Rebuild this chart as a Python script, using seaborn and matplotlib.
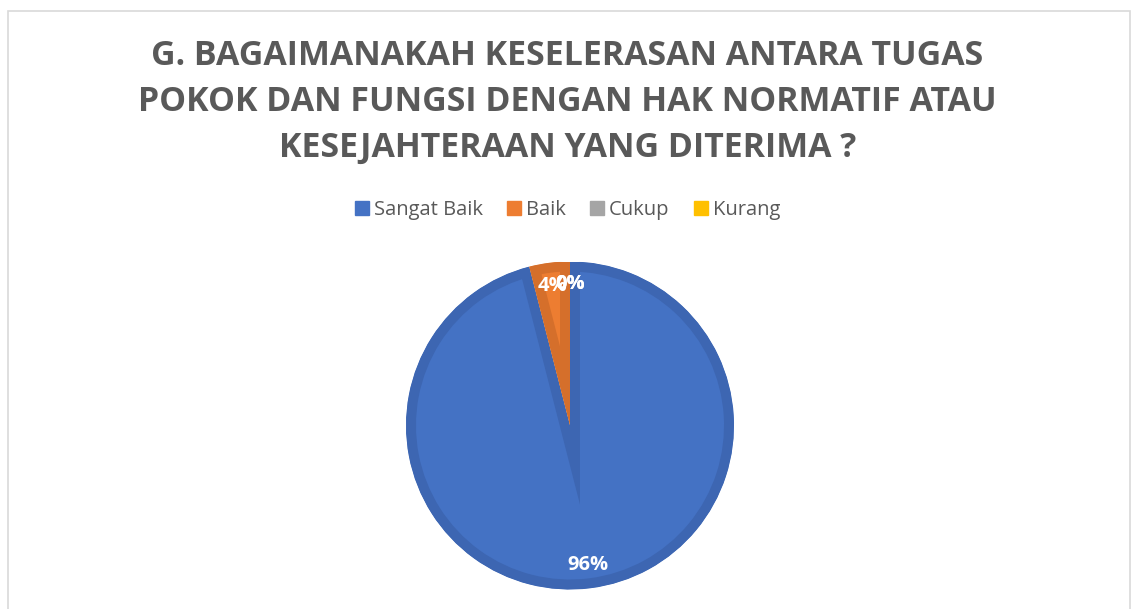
import matplotlib
matplotlib.use("Agg")
import matplotlib.pyplot as plt
import matplotlib.patches as mpatches
import seaborn as sns

# data
kategori = ["Sangat Baik", "Baik", "Cukup", "Kurang"]
persen = [96, 4, 0, 0]
warna = ["#4472C4", "#ED7D31", "#A5A5A5", "#FFC000"]
warna_tepi = ["#3D66B2", "#D56F2B", "#959595", "#E6AD00"]
judul = ("G. BAGAIMANAKAH KESELERASAN ANTARA TUGAS\n"
         "POKOK DAN FUNGSI DENGAN HAK NORMATIF ATAU\n"
         "KESEJAHTERAAN YANG DITERIMA ?")

sns.set_theme(style="white")
plt.rcParams['font.family'] = ['Open Sans', 'DejaVu Sans']

W, H = 1135, 609
fig = plt.figure(figsize=(W / 100, H / 100), dpi=100)
fig.patch.set_facecolor("white")

# chart border
fig.patches.append(mpatches.Rectangle((8 / W, -0.1), (1130 - 8) / W, 1.1 - 11 / H,
                                      transform=fig.transFigure, fill=False,
                                      edgecolor="#D9D9D9", linewidth=1.2))

fig.text(0.5, 1 - 102 / H, judul, ha="center", va="center", fontsize=24.4,
         fontweight="bold", color="#595959", linespacing=1.47)

# pie
cx, cy, r = 570, 609 - 425.5, 164
ax = fig.add_axes([(cx - r) / W, (cy - r) / H, 2 * r / W, 2 * r / H])
ax.pie(persen, colors=warna_tepi, startangle=90, counterclock=False, radius=1)
wedges, _, autotexts = ax.pie(persen, colors=warna, startangle=90, counterclock=False,
                              radius=1, autopct="%1.0f%%", pctdistance=0.86,
                              textprops=dict(color="white", fontsize=14.5, fontweight="bold"))
# inset darker rim on every slice
for w, ec, p in zip(wedges, warna_tepi, persen):
    w.set_edgecolor(ec)
    w.set_linewidth(14.4 if p > 0 else 0)
    w.set_clip_on(True)
    w.set_clip_path(w)
ax.set_xlim(-1, 1)
ax.set_ylim(-1, 1)
ax.set_aspect("equal")
ax.axis("off")

handles = [mpatches.Patch(color=c) for c in warna]
fig.legend(handles, kategori, loc="center", bbox_to_anchor=(0.5, 1 - 210 / H), ncol=4,
           frameon=False, fontsize=14.5, handlelength=0.7, handleheight=0.7,
           handletextpad=0.25, columnspacing=1.2, labelcolor="#595959")

fig.savefig("out.png", dpi=100)
